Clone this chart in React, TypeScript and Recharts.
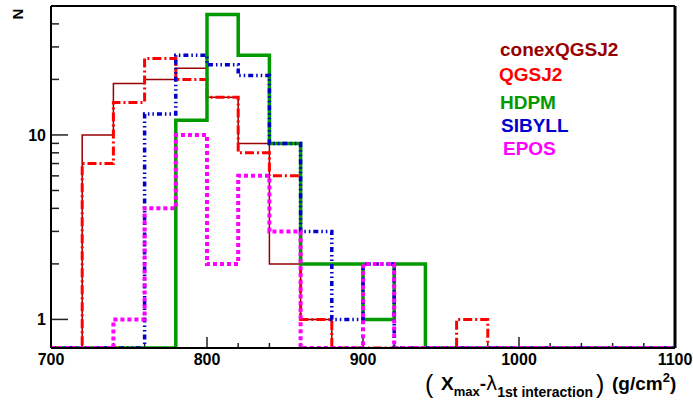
import { LineChart, Line, XAxis, YAxis, ReferenceLine } from 'recharts'

// bin low edges, 20 g/cm2 wide
const binEdges = [700, 720, 740, 760, 780, 800, 820, 840, 860, 880, 900, 920, 940, 960, 980, 1000, 1020, 1040, 1060, 1080, 1100]

const conexQGSJ2 = [0, 10, 19, 20, 23, 16, 9, 2, 1, 0, 0, 0, 0, 0, 0, 0, 0, 0, 0, 0]
const qgsj2 = [0, 7, 15, 26, 20, 16, 8, 6, 1, 0, 0, 0, 0, 1, 0, 0, 0, 0, 0, 0]
const hdpm = [0, 0, 0, 0, 12, 45, 27, 9, 2, 2, 1, 2, 0, 0, 0, 0, 0, 0, 0, 0]
const sibyll = [0, 0, 0, 13, 27, 24, 21, 9, 3, 1, 2, 0, 0, 0, 0, 0, 0, 0, 0, 0]
const epos = [0, 0, 1, 4, 10, 2, 6, 3, 0, 0, 2, 0, 0, 0, 0, 0, 0, 0, 0, 0]

const xTicks = [700, 720, 740, 760, 780, 800, 820, 840, 860, 880, 900, 920, 940, 960, 980, 1000, 1020, 1040, 1060, 1080, 1100]
const xLabels = [700, 800, 900, 1000, 1100]
const yTicks = [1, 2, 3, 4, 5, 6, 7, 8, 9, 10, 20, 30, 40]
const yLabels = [1, 10]

const X_MIN = 700
const X_MAX = 1100
const Y_MIN = 0.7
const Y_MAX = 50

const font = '"Liberation Sans", Arial, Helvetica, sans-serif'

// plot box is 624 x 342 px; used to turn tick lengths (px) into data units
const PX_PER_DECADE = 342 / Math.log10(Y_MAX / Y_MIN)
const X_PER_PX = (X_MAX - X_MIN) / 624
const yUp = (px: number) => Y_MIN * Math.pow(10, px / PX_PER_DECADE)

// histogram points: one per low edge, last edge repeats the last bin
const floor = (v: number) => (v > 0 ? v : Y_MIN)
const data = binEdges.map((x, i) => {
  const j = Math.min(i, conexQGSJ2.length - 1)
  return {
    x,
    conex: floor(conexQGSJ2[j]),
    qgsj2: floor(qgsj2[j]),
    hdpm: floor(hdpm[j]),
    sibyll: floor(sibyll[j]),
    epos: floor(epos[j]),
  }
})

const legend = [
  { name: 'conexQGSJ2', color: '#990000', x: 500, y: 56 },
  { name: 'QGSJ2', color: '#ff0000', x: 499, y: 81 },
  { name: 'HDPM', color: '#009900', x: 500, y: 109 },
  { name: 'SIBYLL', color: '#0000cc', x: 501, y: 132 },
  { name: 'EPOS', color: '#ff00ff', x: 503, y: 155 },
]

const XTick = (props: any) => {
  const { x, y, payload } = props
  const v = payload.value
  if (!xLabels.includes(v)) return <g />
  return (
    <text x={x} y={y + 17} textAnchor="middle" fontFamily={font} fontWeight="bold" fontSize={16} fill="#000">
      {v}
    </text>
  )
}

const YTick = (props: any) => {
  const { x, y, payload } = props
  const v = payload.value
  if (!yLabels.includes(v)) return <g />
  return (
    <text x={x - 5} y={y + 6} textAnchor="end" fontFamily={font} fontWeight="bold" fontSize={16} fill="#000">
      {v}
    </text>
  )
}

export default function App() {
  return (
    <div style={{ position: 'absolute', left: 0, top: 0, width: 693, height: 402, background: '#fff' }}>
      <LineChart width={693} height={402} data={data} margin={{ top: 5, right: 17, bottom: 0, left: 0 }}>
        <XAxis
          dataKey="x"
          type="number"
          domain={[X_MIN, X_MAX]}
          ticks={xTicks}
          interval={0}
          height={54}
          tickSize={0}
          tickMargin={0}
          tickLine={false}
          axisLine={{ stroke: '#000', strokeWidth: 2 }}
          tick={<XTick />}
        />
        <XAxis
          xAxisId="top"
          orientation="top"
          dataKey="x"
          type="number"
          domain={[X_MIN, X_MAX]}
          height={1}
          tick={false}
          tickLine={false}
          axisLine={{ stroke: '#000', strokeWidth: 2 }}
        />
        <YAxis
          scale="log"
          type="number"
          domain={[Y_MIN, Y_MAX]}
          allowDataOverflow
          ticks={yTicks}
          interval={0}
          width={51}
          tickSize={0}
          tickMargin={0}
          tickLine={false}
          axisLine={{ stroke: '#000', strokeWidth: 2 }}
          tick={<YTick />}
        />
        <YAxis
          yAxisId="right"
          orientation="right"
          scale="log"
          type="number"
          domain={[Y_MIN, Y_MAX]}
          width={1}
          tick={false}
          tickLine={false}
          axisLine={{ stroke: '#000', strokeWidth: 3 }}
        />
        {xTicks.map((t) => (
          <ReferenceLine
            key={`xt${t}`}
            segment={[{ x: t, y: Y_MIN }, { x: t, y: yUp(t % 100 === 0 ? 11 : 5) }]}
            stroke="#222"
            strokeWidth={1.5}
            ifOverflow="visible"
          />
        ))}
        {yTicks.map((t) => (
          <ReferenceLine
            key={`yt${t}`}
            segment={[{ x: X_MIN, y: t }, { x: X_MIN + X_PER_PX * (yLabels.includes(t) ? 17 : 8), y: t }]}
            stroke="#222"
            strokeWidth={1.5}
            ifOverflow="visible"
          />
        ))}
        <Line dataKey="conex" type="stepAfter" stroke="#990000" strokeWidth={1.5} dot={false} isAnimationActive={false} />
        <Line dataKey="qgsj2" type="stepAfter" stroke="#ff0000" strokeWidth={3} strokeDasharray="9 3 2 3" dot={false} isAnimationActive={false} />
        <Line dataKey="hdpm" type="stepAfter" stroke="#009900" strokeWidth={3.5} dot={false} isAnimationActive={false} />
        <Line dataKey="sibyll" type="stepAfter" stroke="#0000cc" strokeWidth={3.5} strokeDasharray="5 3 1.5 3 1.5 3" dot={false} isAnimationActive={false} />
        <Line dataKey="epos" type="stepAfter" stroke="#ff00ff" strokeWidth={4} strokeDasharray="4 3" dot={false} isAnimationActive={false} />
      </LineChart>
      <svg width={693} height={402} style={{ position: 'absolute', left: 0, top: 0, pointerEvents: 'none' }}>
        {legend.map((l) => (
          <text key={l.name} x={l.x} y={l.y} fontFamily={font} fontWeight="bold" fontSize={19} fill={l.color}>
            {l.name}
          </text>
        ))}
        <text x={0} y={0} transform="translate(23 14) rotate(-90)" textAnchor="middle" fontFamily={font} fontWeight="bold" fontSize={15} fill="#000">
          N
        </text>
        <text x={425} y={393} fontFamily={font} fontSize={25} fill="#000">(</text>
        <text x={441} y={390} fontFamily={font} fontWeight="bold" fontSize={19} fill="#000">
          X<tspan fontSize={13} dy={6}>max</tspan>
          <tspan dy={-6}>-</tspan>
          <tspan fontFamily='"DejaVu Sans", sans-serif' fontWeight="normal" fontSize={19}>λ</tspan>
          <tspan fontSize={14} dy={7}>1st interaction</tspan>
        </text>
        <text x={596} y={393} fontFamily={font} fontSize={25} fill="#000">)</text>
        <text x={612} y={390} fontFamily={font} fontWeight="bold" fontSize={19} fill="#000">
          (g/cm<tspan fontSize={13} dy={-8}>2</tspan>
          <tspan dy={8}>)</tspan>
        </text>
      </svg>
    </div>
  )
}
